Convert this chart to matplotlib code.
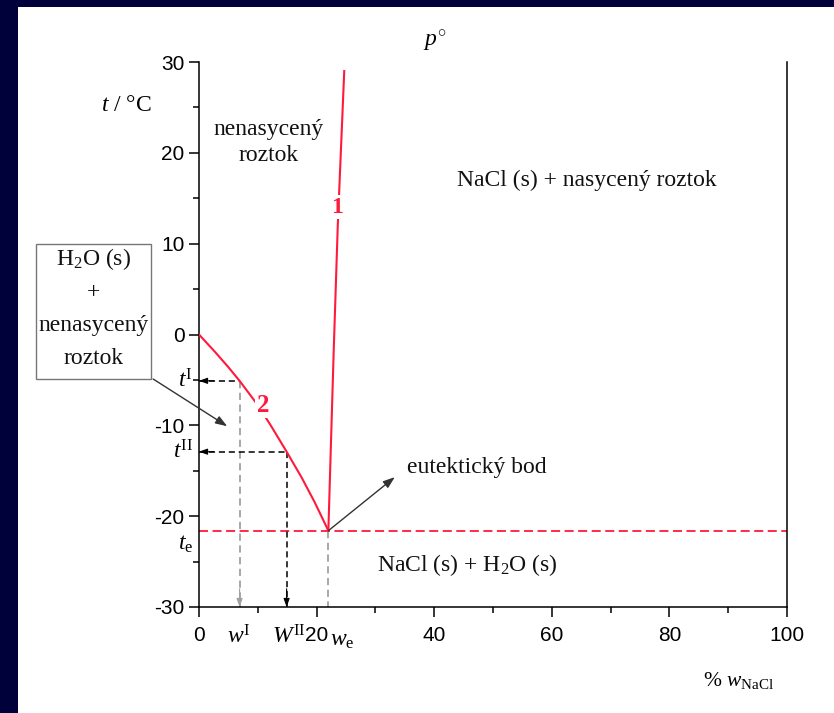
import numpy as np
import matplotlib
matplotlib.use('Agg')
import matplotlib.pyplot as plt
from matplotlib.patches import Rectangle

# phase diagram NaCl - H2O
freeze_w = [0.0, 2.7, 5.0, 6.9, 9.8, 12.1, 14.9, 17.5, 19.7, 22.0]   # curve 2
freeze_t = [0.0, -1.9, -3.6, -5.1, -7.6, -9.9, -12.9, -15.8, -18.5, -21.6]
solub_w = [22.0, 22.9, 23.6, 24.7]                                     # curve 1
solub_t = [-21.6, -2.0, 12.0, 29.0]
w_eut, t_eut = 22.0, -21.6
w_I, t_I = 6.9, -5.1
w_II, t_II = 14.9, -12.9

x_ticks = [0, 20, 40, 60, 80, 100]
x_ticklabels = ['0', '20', '40', '60', '80', '100']
y_ticks = [-30, -20, -10, 0, 10, 20, 30]
y_ticklabels = ['-30', '-20', '-10', '0', '10', '20', '30']

plt.rcParams['mathtext.fontset'] = 'custom'
plt.rcParams['mathtext.rm'] = 'Liberation Serif'
plt.rcParams['mathtext.it'] = 'Liberation Serif:italic'

serif = 'Liberation Serif'
sans = 'Liberation Sans'
red = '#ff1a3c'
W, H = 834, 713

fig = plt.figure(figsize=(W / 100, H / 100), dpi=100, facecolor='#00003a')
bg = Rectangle((18 / W, 0), 1, (H - 7) / H, transform=fig.transFigure,
               facecolor='white', edgecolor='none')
bg.set_zorder(-10)
fig.patches.append(bg)
ax = fig.add_axes([199 / W, (H - 607) / H, (787 - 199) / W, (607 - 62) / H])
ax.set_facecolor('none')
ax.set_xlim(0, 100)
ax.set_ylim(-30, 30)
ax.spines['top'].set_visible(False)
for s in ['left', 'bottom', 'right']:
    ax.spines[s].set_linewidth(1.1)

ax.set_xticks(x_ticks)
ax.set_xticklabels(x_ticklabels, fontfamily=sans, fontsize=15)
ax.set_yticks(y_ticks)
ax.set_yticklabels(y_ticklabels, fontfamily=sans, fontsize=15)
ax.set_xticks(np.arange(10, 100, 20), minor=True)
ax.set_yticks(np.arange(-25, 30, 10), minor=True)
ax.tick_params(which='major', direction='out', length=7.5, width=1.1, pad=3)
ax.tick_params(axis='x', which='major', pad=6)
ax.tick_params(which='minor', direction='out', length=4.5, width=1.1)

# curves
ax.plot(freeze_w, freeze_t, color=red, lw=1.5, zorder=3)
ax.plot(solub_w, solub_t, color=red, lw=1.5, zorder=3)
ax.text(10.9, -7.8, '2', color=red, fontfamily=serif, fontsize=18, fontweight='bold',
        ha='center', va='center', zorder=4,
        bbox=dict(facecolor='white', edgecolor='none', pad=1))
ax.text(23.4, 14.0, '1', color=red, fontfamily=serif, fontsize=17, fontweight='bold',
        ha='center', va='center', zorder=4,
        bbox=dict(facecolor='white', edgecolor='none', pad=1))

# eutectic line
ax.plot([0, 100], [t_eut, t_eut], color=red, lw=1.3, dashes=(5, 2.5), zorder=2)

# guide lines
gray = '#a0a0a0'
ax.plot([w_I, w_I], [t_I, -30], color=gray, lw=1.3, dashes=(4, 2.5), zorder=2)
ax.plot([w_eut, w_eut], [t_eut, -30], color=gray, lw=1.3, dashes=(4, 2.5), zorder=2)
ax.plot([w_II, w_II], [t_II, -30], color='black', lw=1.1, dashes=(4, 2.5), zorder=2)
ax.plot([0, w_I], [t_I, t_I], color='black', lw=1.1, dashes=(4, 2.5), zorder=2)
ax.plot([0, w_II], [t_II, t_II], color='black', lw=1.1, dashes=(4, 2.5), zorder=2)

head = dict(arrowstyle='-|>,head_length=0.5,head_width=0.18', lw=0.8,
            shrinkA=0, shrinkB=0)
ax.annotate('', xy=(w_I, -30), xytext=(w_I, -28), arrowprops=dict(color=gray, **head))
ax.annotate('', xy=(w_II, -30), xytext=(w_II, -28), arrowprops=dict(color='black', **head))
ax.annotate('', xy=(0, t_I), xytext=(2.5, t_I), arrowprops=dict(color='black', **head))
ax.annotate('', xy=(0, t_II), xytext=(2.5, t_II), arrowprops=dict(color='black', **head))

# pointer arrows
ptr = dict(arrowstyle='-|>,head_length=0.7,head_width=0.25', lw=1.0, color='#333333',
           shrinkA=0, shrinkB=0)
ax.annotate('', xy=(4.8, -10.1), xytext=(-7.8, -4.9), arrowprops=ptr, annotation_clip=False)
ax.annotate('', xy=(33.3, -15.7), xytext=(w_eut, t_eut), arrowprops=ptr)

# region labels
tk = dict(fontfamily=serif, fontsize=17, ha='center', va='center', color='#111111')
ax.text(11.9, 21.1, 'nenasycený\nroztok', linespacing=1.3, **tk)
ax.text(66.0, 17.0, 'NaCl (s) + nasycený roztok', **tk)
ax.text(45.6, -25.4, 'NaCl (s) + H$_2$O (s)', **tk)
ax.text(35.3, -14.6, 'eutektický bod', fontfamily=serif, fontsize=17, ha='left',
        va='center', color='#111111')

# boxed label on the left
ax.add_patch(Rectangle((-27.7, -4.9), 19.6, 14.9, facecolor='white', edgecolor='#777777',
                       lw=1.0, clip_on=False))
for y, s in zip([8.3, 4.6, 1.0, -2.6], ['H$_2$O (s)', '+', 'nenasycený', 'roztok']):
    ax.text(-17.9, y, s, clip_on=False, **tk)

# axis labels
ax.text(-8.0, 25.2, r'$t$ / °C', fontfamily=serif, fontsize=17, ha='right', va='center')
ax.text(40.1, 32.3, r'$p^{\circ}$', fontfamily=serif, fontsize=17, ha='center', va='center')
ax.text(91.8, -38.1, r'% $w_{\mathrm{NaCl}}$', fontfamily=serif, fontsize=15.5,
        ha='center', va='center')

# special tick annotations
mk = dict(fontsize=17, ha='center', va='center', clip_on=False)
ax.text(6.8, -33.2, r'$w^{\mathrm{I}}$', **mk)
ax.text(15.2, -33.2, r'$W^{\mathrm{II}}$', **mk)
ax.text(24.3, -33.5, r'$w_{\mathrm{e}}$', **mk)
ax.text(-1.0, t_I, r'$t^{\mathrm{I}}$', fontsize=17, ha='right', va='center')
ax.text(-1.0, t_II, r'$t^{\mathrm{II}}$', fontsize=17, ha='right', va='center')
ax.text(-1.0, -23.0, r'$t_{\mathrm{e}}$', fontsize=17, ha='right', va='center')

fig.savefig('out.png', dpi=100, facecolor=fig.get_facecolor())
